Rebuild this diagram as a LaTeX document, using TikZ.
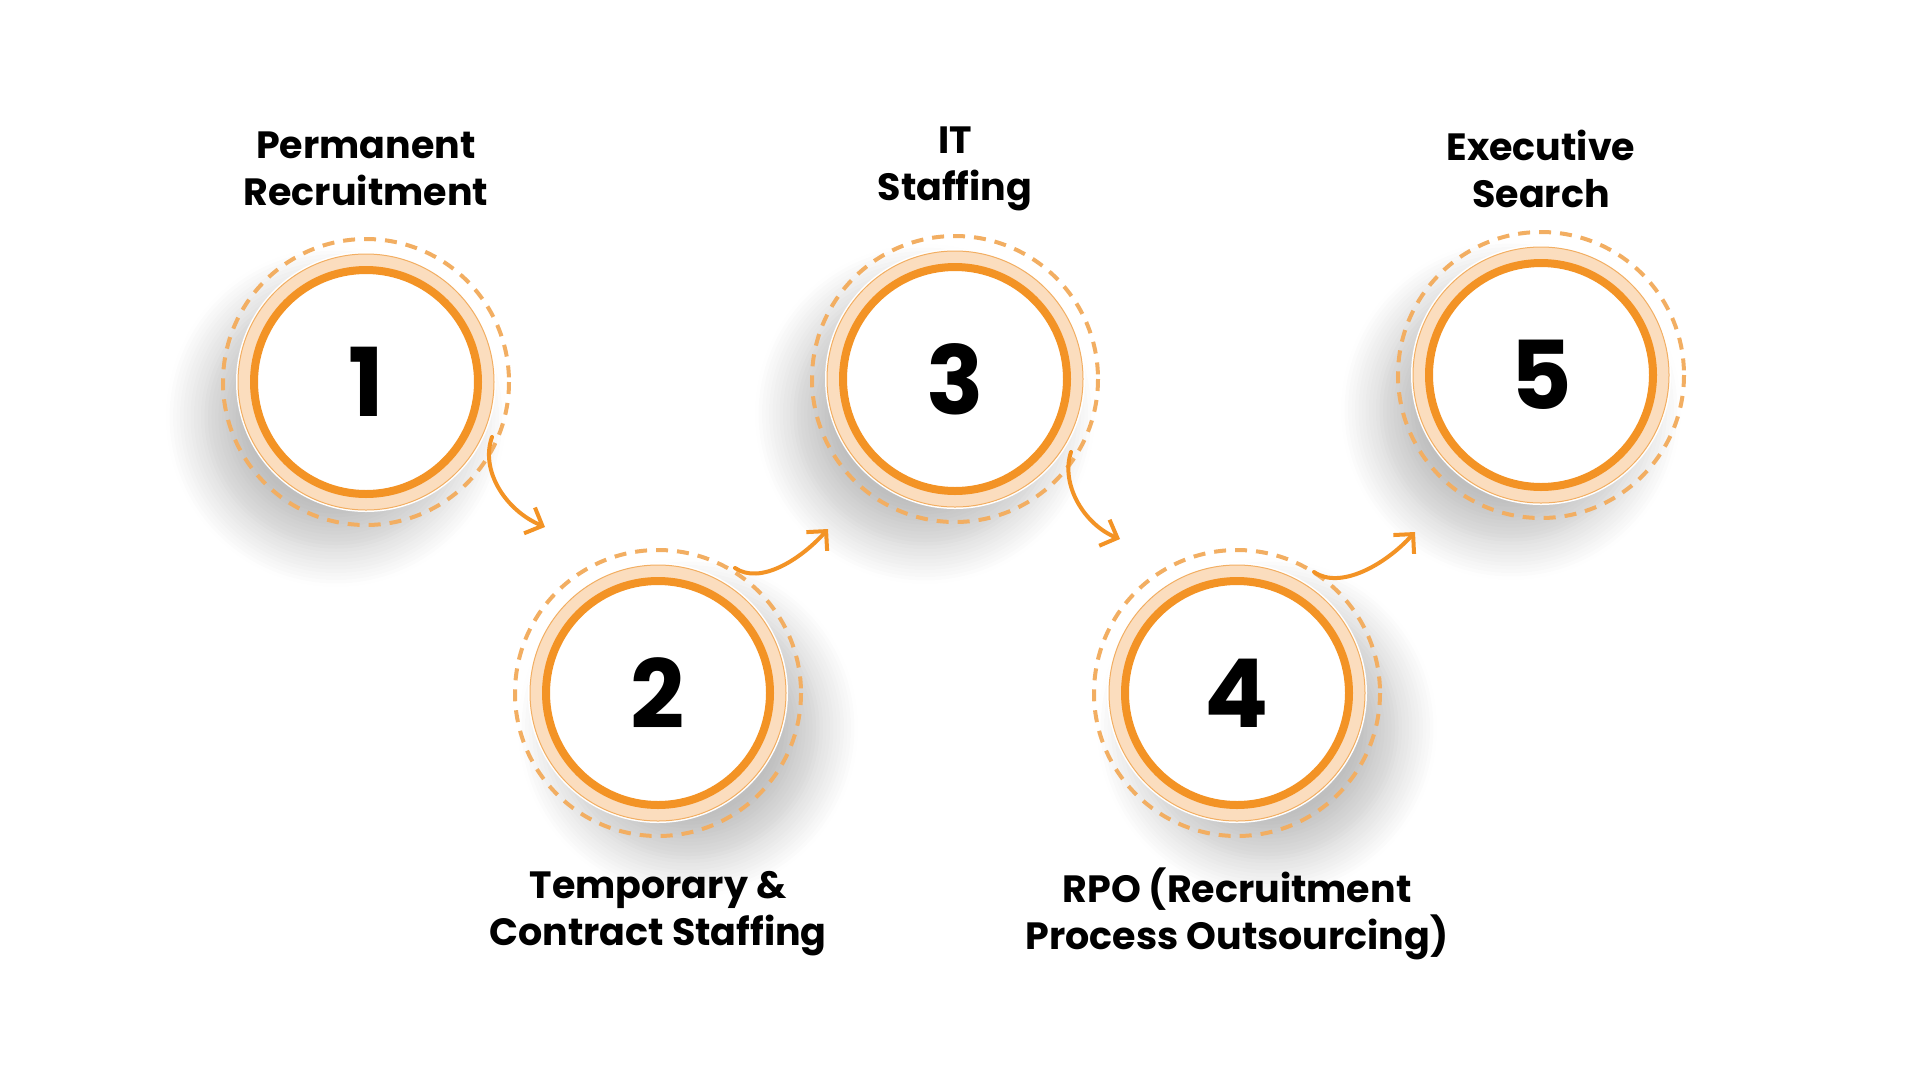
\documentclass[tikz,border=0pt]{standalone}
\usepackage{fontspec}
\setmainfont{Poppins}
\usetikzlibrary{shadows.blur,arrows.meta}
\definecolor{org}{HTML}{F39325}
\definecolor{lorg}{HTML}{FBDDBE}
\definecolor{dorg}{HTML}{F2AE62}
\tikzset{
 ring/.style={circle,fill=white,draw=org,line width=8pt,minimum size=224pt,inner sep=0pt,font=\fontsize{95}{95}\selectfont\bfseries},
 lbl/.style={align=center,font=\fontsize{38}{47}\selectfont\bfseries},
 conn/.style={draw=org,line width=4pt,line cap=round,-{Straight Barb[length=14pt,width=28pt,line width=4pt]}}
}
\begin{document}
\begin{tikzpicture}[x=1pt,y=-1pt]
\useasboundingbox (0,0) rectangle (1920,1080);
\foreach \n/\x/\y/\sx/\sy in {1/366/382/-30/-35,2/658/693/30/-35,3/955/379/-30/-35,4/1237/693/30/-35,5/1541/375/-30/-35}{
  \fill[white,blur shadow={shadow xshift=\sx pt,shadow yshift=\sy pt,shadow opacity=25,shadow blur radius=40pt,shadow blur steps=12}] (\x,\y) circle (130);
  \fill[lorg] (\x,\y) circle (128);
  \draw[dorg,line width=1pt] (\x,\y) circle (128);
  \draw[dorg,line width=4pt,dash pattern=on 12pt off 9pt] (\x,\y) circle (143);
  \node[ring] (c\n) at (\x,\y) {\n};
}
\node[lbl] (t1) at (366,169) {Permanent\\Recruitment};
\node[lbl] (t3) at (955,169) {IT\\Staffing};
\node[lbl] (t5) at (1541,169) {Executive\\Search};
\node[lbl] (t2) at (658,914) {Temporary \&\\Contract Staffing};
\node[lbl] (t4) at (1237,914) {RPO (Recruitment\\Process Outsourcing)};
\coordinate (a1s) at (492,437); \coordinate (a1e) at (545,527);
\coordinate (a2s) at (735,568); \coordinate (a2e) at (828,529);
\coordinate (a3s) at (1071,452); \coordinate (a3e) at (1120,539);
\coordinate (a4s) at (1314,572); \coordinate (a4e) at (1415,532);
\draw[conn] (a1s) .. controls (480,470) and (505,510) .. (a1e);
\draw[conn] (a2s) .. controls (760,585) and (800,560) .. (a2e);
\draw[conn] (a3s) .. controls (1060,485) and (1085,525) .. (a3e);
\draw[conn] (a4s) .. controls (1340,590) and (1385,565) .. (a4e);
\end{tikzpicture}
\end{document}
